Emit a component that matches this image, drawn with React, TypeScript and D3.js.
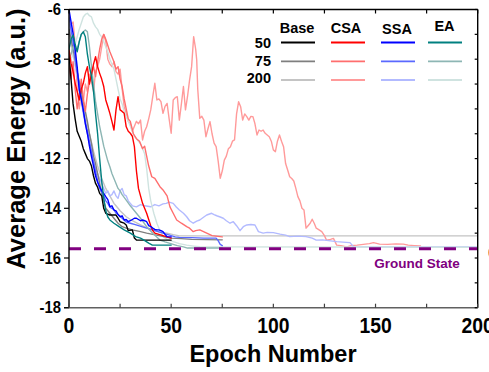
import React from 'react';
import * as d3 from 'd3';

type Pt = [number, number];

// Average energy per epoch, [epoch, energy (a.u.)]
const base50: Pt[] = [[0,-7.8],[1,-8.8],[2,-9.8],[3,-10.4],[4,-10.9],[5,-11.1],[6,-11.3],[7,-11.6],[8,-11.8],[9,-12.0],[10,-12.1],[11,-12.3],[12,-12.7],[13,-13.0],[14,-13.15],[15,-13.4],[16,-13.5],[17,-14.0],[18,-14.2],[20,-14.27],[23,-14.27],[24,-14.4],[25,-14.54],[27,-14.6],[28,-14.67],[29,-14.9],[31,-14.87],[32,-15.2],[33,-15.28],[50,-15.28]];
const base75: Pt[] = [[0,-6.8],[1,-7.2],[2,-7.6],[3,-8.0],[4,-8.5],[5,-8.9],[6,-9.3],[7,-9.7],[8,-10.1],[9,-10.5],[10,-11.0],[11,-11.4],[12,-11.9],[13,-12.2],[14,-12.6],[15,-13.0],[16,-13.4],[17,-13.7],[18,-14.0],[19,-14.1],[20,-14.2],[21,-14.3],[22,-14.4],[23,-14.5],[24,-14.6],[26,-14.74],[28,-14.8],[31,-14.87],[35,-14.94],[38,-15.0],[41,-15.05],[44,-15.1],[47,-15.15],[50,-15.2],[55,-15.22],[60,-15.25],[75,-15.27]];
const base200: Pt[] = [[0,-7.0],[1,-7.4],[2,-7.8],[3,-8.2],[4,-8.6],[5,-9.0],[6,-9.4],[7,-9.8],[8,-10.2],[9,-10.6],[10,-11.0],[11,-11.35],[12,-11.7],[13,-12.0],[14,-12.3],[15,-12.55],[16,-12.8],[17,-13.0],[18,-13.2],[19,-13.35],[20,-13.5],[21,-13.65],[22,-13.8],[23,-13.9],[25,-14.1],[28,-14.34],[31,-14.5],[35,-14.67],[38,-14.78],[41,-14.87],[44,-14.95],[48,-15.0],[51,-15.06],[54,-15.11],[200,-15.11]];

const csa50: Pt[] = [[0,-7.6],[1,-8.17],[2,-8.5],[3,-8.96],[4,-9.3],[5,-9.64],[6,-9.2],[7,-8.97],[8,-8.56],[9,-8.3],[10,-9.0],[11,-8.6],[12,-8.2],[13,-7.9],[14,-8.3],[15,-8.57],[16,-8.8],[17,-9.1],[18,-9.64],[19,-9.9],[20,-10.18],[21,-10.5],[22,-10.85],[23,-10.04],[24,-9.51],[25,-10.04],[26,-10.1],[27,-10.18],[28,-10.72],[29,-10.9],[30,-10.98],[31,-11.1],[32,-11.52],[33,-12.5],[34,-13.2],[35,-13.5],[36,-13.8],[37,-14.0],[38,-14.2],[39,-14.45],[40,-14.7],[41,-14.9],[42,-15.0],[44,-15.05],[46,-15.1],[48,-15.15],[50,-15.2]];
const csa75: Pt[] = [[0,-8.3],[1,-8.8],[2,-8.1],[3,-9.2],[4,-10.0],[5,-9.5],[6,-8.8],[7,-9.6],[8,-10.1],[9,-9.4],[10,-8.9],[12,-8.3],[13,-8.7],[14,-8.1],[15,-7.6],[16,-7.2],[17,-7.0],[18,-7.2],[20,-7.7],[22,-8.1],[23,-8.4],[24,-8.3],[25,-8.8],[26,-9.1],[27,-9.6],[28,-10.0],[29,-10.4],[30,-10.5],[31.5,-11.0],[33,-11.2],[34.5,-11.3],[36,-11.6],[37,-11.5],[38,-11.9],[39,-12.3],[40.5,-12.73],[42,-12.8],[44.5,-13.13],[46,-13.26],[48,-13.5],[49.4,-13.94],[51,-14.2],[52.7,-14.47],[55,-14.6],[57.6,-14.74],[59,-14.8],[60.8,-14.94],[62,-14.9],[64,-14.87],[67.4,-15.0],[70,-15.1],[73.9,-15.14],[75,-15.15]];
const csa200: Pt[] = [[0,-7.0],[1,-6.6],[2,-6.5],[3,-7.4],[4,-9.2],[5,-10.0],[6,-9.4],[7,-9.7],[8,-9.0],[9,-9.3],[10,-8.6],[11,-8.9],[12,-9.3],[13,-8.5],[14,-8.3],[15,-8.0],[16,-7.5],[17,-7.0],[18,-7.3],[19,-8.0],[20,-8.2],[21,-8.3],[22,-8.1],[23,-8.5],[24,-8.6],[25,-8.4],[26,-9.2],[27,-9.9],[28,-10.2],[29,-10.5],[30,-10.6],[31,-10.9],[32,-10.7],[33,-10.5],[34,-10.6],[35,-10.45],[36,-11.25],[37,-10.9],[38,-10.72],[39,-10.4],[40,-10.04],[41,-9.5],[42,-8.97],[43,-9.64],[44,-9.6],[45,-9.71],[46,-10.18],[47,-9.9],[48,-9.78],[49,-10.4],[50,-10.98],[51,-9.64],[52,-9.55],[53,-9.51],[54,-10.45],[55,-9.8],[56,-9.1],[57,-10.04],[58,-9.5],[59,-8.84],[60,-8.3],[61,-7.09],[62,-7.6],[62.5,-8.03],[63,-9.2],[64,-10.38],[65,-10.3],[66,-10.45],[67,-11.12],[68,-10.8],[69,-10.51],[70,-11.0],[71,-11.38],[72,-11.52],[73,-12.1],[74,-12.79],[75,-12.5],[76,-12.06],[77,-11.9],[78,-11.6],[79,-11.52],[80,-11.3],[81,-11.25],[82,-10.2],[83,-9.71],[84,-9.91],[85,-10.45],[86,-10.2],[87,-10.31],[88,-10.45],[89,-10.3],[90,-10.31],[91,-10.6],[92,-11.05],[93,-10.85],[94,-10.9],[95,-10.85],[96,-10.98],[97,-11.05],[98,-11.12],[99,-11.3],[100,-11.65],[101,-11.72],[102,-11.3],[103,-11.05],[104,-11.3],[105,-11.52],[106,-12.2],[107,-12.46],[108,-12.73],[109,-12.8],[110,-12.9],[111,-13.2],[112,-13.53],[113,-13.7],[114,-14.0],[115,-14.07],[116,-14.8],[117,-14.7],[118,-14.6],[119,-14.44],[120,-14.6],[121,-14.8],[122,-14.85],[123.7,-14.94],[125,-15.1],[126,-15.28],[128,-15.25],[129.4,-15.21],[131,-15.48],[133,-15.5],[136,-15.55],[138,-15.5],[141,-15.48],[144,-15.45],[147,-15.42],[149,-15.38],[152,-15.44],[156,-15.45],[160,-15.43],[163.6,-15.44],[166,-15.48],[169,-15.5],[172,-15.52]];

const ssa50: Pt[] = [[0,-6.0],[1,-6.5],[2,-6.96],[3,-7.6],[4,-8.3],[5,-9.24],[6,-9.6],[7,-10.04],[8,-10.6],[9,-11.0],[10,-11.5],[11,-11.92],[12,-12.3],[13,-12.7],[14,-12.95],[15,-13.13],[16,-13.3],[17,-13.4],[18,-13.53],[19,-13.65],[20,-13.93],[21,-13.9],[22,-14.07],[23,-14.1],[24,-14.25],[25,-14.34],[26,-14.3],[27,-14.47],[28,-14.45],[29,-14.54],[30,-14.5],[31,-14.45],[32,-14.4],[33,-14.4],[34,-14.45],[35,-14.5],[36,-14.47],[37,-14.5],[38,-14.54],[39,-14.7],[40,-14.74],[41,-14.8],[42,-14.85],[43,-14.87],[44,-14.87],[45,-14.9],[46,-14.94],[47,-15.05],[48,-15.14],[50,-15.15]];
const ssa75: Pt[] = [[0,-6.3],[1,-6.8],[2,-7.3],[3,-7.9],[4,-8.5],[5,-9.0],[6,-9.6],[7,-10.1],[8,-10.5],[9,-10.9],[10,-11.3],[11,-11.7],[12,-12.1],[13,-12.5],[14,-12.9],[15,-13.2],[16,-13.35],[17,-13.5],[18,-13.7],[19,-13.8],[20,-13.95],[21,-14.0],[22,-14.05],[23,-14.2],[24,-14.25],[26,-14.4],[28,-14.55],[30,-14.6],[32,-14.65],[34,-14.7],[36,-14.75],[38,-14.8],[40,-14.85],[42,-14.9],[44,-14.95],[46,-15.0],[48,-15.05],[50,-15.1],[52,-15.15],[54,-15.17],[60,-15.18],[66,-15.2],[72,-15.2],[73,-15.3],[74,-15.45],[75,-15.5]];
const ssa200: Pt[] = [[0,-6.6],[1,-7.1],[2,-7.6],[3,-8.2],[4,-8.7],[5,-9.2],[6,-9.7],[7,-10.2],[8,-10.6],[9,-11.0],[10,-11.4],[11,-11.8],[12,-12.1],[13,-12.4],[14,-12.6],[15,-12.8],[16,-13.0],[17,-13.2],[18,-13.4],[19,-13.3],[20,-13.5],[21,-13.45],[22,-13.3],[23,-13.5],[24,-13.6],[25,-13.3],[26,-13.2],[27,-13.45],[28,-13.5],[29,-13.7],[30,-13.8],[31,-13.9],[33,-13.94],[35,-13.85],[37,-13.9],[40,-13.94],[42,-13.85],[44,-13.9],[46,-13.82],[47.6,-13.8],[49,-13.75],[51,-13.8],[52.5,-13.95],[54,-14.07],[56,-14.2],[57.6,-14.34],[59,-14.5],[60.8,-14.6],[62.5,-14.52],[64,-14.47],[66,-14.35],[67.4,-14.27],[69.8,-14.2],[71,-14.25],[72.3,-14.3],[74,-14.35],[75.5,-14.4],[77,-14.5],[78.8,-14.6],[80.4,-14.54],[82,-14.7],[83.7,-14.9],[85.3,-14.74],[87,-14.67],[89,-14.65],[91,-14.67],[92.7,-14.94],[95,-15.0],[97,-14.97],[100,-14.98],[103.3,-15.04],[106,-15.08],[108,-15.14],[112,-15.12],[116,-15.14],[119,-15.2],[121,-15.28],[124,-15.27],[127,-15.3],[131,-15.34],[134,-15.36],[137.5,-15.38],[139.2,-15.55],[200,-15.56]];

const ea50: Pt[] = [[0,-7.6],[1,-7.2],[2,-7.03],[3,-7.4],[4,-7.7],[5,-7.3],[6,-7.0],[7,-6.9],[8,-7.1],[9,-7.8],[10,-8.3],[11,-8.7],[12,-9.3],[13,-10.2],[14,-11.0],[15,-12.0],[16,-12.9],[17,-13.6],[18,-14.1],[19,-14.35],[20,-14.47],[22,-14.6],[24.5,-14.74],[27,-14.87],[30,-15.0],[32.6,-15.14],[35,-15.2],[36.7,-15.28],[39,-15.4],[40.8,-15.48],[50,-15.48]];
const ea75: Pt[] = [[0,-8.0],[1,-7.8],[2,-7.5],[3,-7.7],[4,-7.6],[5,-7.3],[6,-7.0],[7,-6.9],[8,-6.82],[9,-6.9],[10,-7.5],[11,-8.3],[12,-9.0],[13,-9.7],[14,-10.2],[15,-10.7],[16,-11.1],[17,-11.5],[18,-11.8],[19,-12.1],[20,-12.33],[21,-12.6],[22,-12.8],[23,-13.0],[24,-13.2],[25,-13.3],[26,-13.45],[28,-13.67],[30,-13.9],[33,-14.2],[35,-14.4],[38,-14.74],[41,-15.0],[44.5,-15.28],[47,-15.35],[49.4,-15.41],[53,-15.5],[56,-15.55],[58,-15.6],[75,-15.6]];
const ea200: Pt[] = [[0,-8.3],[1,-8.0],[2,-7.8],[3,-7.4],[4,-7.1],[5,-6.8],[6,-6.55],[7,-6.3],[8,-6.2],[9,-6.15],[10,-6.25],[11,-6.3],[12,-6.55],[13,-6.7],[14,-6.8],[15,-7.0],[16,-7.1],[17,-7.3],[18,-7.5],[19,-7.7],[20,-8.0],[21,-8.2],[22,-8.4],[23,-8.8],[24,-9.2],[25,-9.6],[26,-9.8],[27,-10.1],[28,-10.3],[29,-10.5],[30,-10.7],[31,-10.9],[32,-11.1],[33,-11.2],[34,-11.3],[35,-11.4],[36,-11.6],[37,-11.8],[38,-12.4],[39,-13.2],[40,-13.7],[41.5,-14.2],[43,-14.6],[44.5,-14.9],[46,-15.14],[48,-15.25],[51,-15.34],[54,-15.42],[57.6,-15.48],[61,-15.52],[64,-15.55],[200,-15.57]];

const groundState = -15.63;

const methods = ['Base', 'CSA', 'SSA', 'EA'];
const budgets = ['50', '75', '200'];
const xTicks = [0, 50, 100, 150, 200];
const xMinorTicks = [25, 75, 125, 175];
const yTicks = [-6, -8, -10, -12, -14, -16, -18];
const yMinorTicks = [-7, -9, -11, -13, -15, -17];

const seriesData: Record<string, Pt[][]> = {
  Base: [base50, base75, base200],
  CSA: [csa50, csa75, csa200],
  SSA: [ssa50, ssa75, ssa200],
  EA: [ea50, ea75, ea200],
};

const palette: Record<string, string[]> = {
  Base: ['#000000', '#7f7f7f', '#c4c4c4'],
  CSA: ['#ff0000', '#ff6e6e', '#ff9a9a'],
  SSA: ['#0000ff', '#5a69ff', '#b2baff'],
  EA: ['#008080', '#8db6b4', '#cfe3e0'],
};

const W = 489;
const H = 372;
const plot = { left: 69, right: 477.7, top: 9.5, bottom: 307.7 };

const x = d3.scaleLinear().domain([0, 200]).range([plot.left, plot.right]);
const y = d3.scaleLinear().domain([-18, -6]).range([plot.bottom, plot.top]);

const line = d3.line<Pt>().x(d => x(d[0])).y(d => y(d[1]));

const font = 'Arial, "Liberation Sans", Helvetica, sans-serif';

// legend layout
const legendCols = [
  { x0: 281, head: 297, headY: 33 },
  { x0: 331, head: 346, headY: 33 },
  { x0: 381, head: 397, headY: 34 },
  { x0: 428, head: 444.5, headY: 31 },
];
const legendRows = [
  { y: 42.5, labelY: 47.7 },
  { y: 61.3, labelY: 65.7 },
  { y: 80, labelY: 83.3 },
];

export default function App() {
  const drawOrder: { key: string; d: Pt[]; color: string }[] = [];
  [2, 1, 0].forEach(bi => {
    methods.forEach(m => {
      drawOrder.push({ key: `${m}-${budgets[bi]}`, d: seriesData[m][bi], color: palette[m][bi] });
    });
  });

  return (
    <svg width={W} height={H} style={{ position: 'absolute', left: 0, top: 0, background: '#fff' }} fontFamily={font}>
      <defs>
        <clipPath id="plotArea">
          <rect x={plot.left} y={plot.top} width={plot.right - plot.left} height={plot.bottom - plot.top} />
        </clipPath>
      </defs>
      <rect x={0} y={0} width={W} height={H} fill="#fff" />

      <g clipPath="url(#plotArea)" fill="none" strokeLinejoin="round" strokeLinecap="round">
        {drawOrder.map(s => (
          <path key={s.key} d={line(s.d) || ''} stroke={s.color} strokeWidth={1.4} />
        ))}
      </g>

      {/* ground state reference */}
      <line x1={plot.left} x2={plot.right} y1={y(groundState)} y2={y(groundState)}
        stroke="#800080" strokeWidth={3} strokeDasharray="12 13" />
      <text x={417} y={267.5} textAnchor="middle" fontSize={13.5} fontWeight="bold" fill="#800080">Ground State</text>

      {/* frame */}
      <line x1={plot.left} x2={plot.right} y1={plot.top} y2={plot.top} stroke="#000" strokeWidth={1.4} />
      <line x1={plot.right} x2={plot.right} y1={plot.top} y2={plot.bottom} stroke="#000" strokeWidth={1.4} />
      <line x1={plot.left} x2={plot.left} y1={plot.top} y2={plot.bottom} stroke="#000" strokeWidth={1.4} />
      <line x1={plot.left - 5} x2={plot.right} y1={plot.bottom} y2={plot.bottom} stroke="#606060" strokeWidth={1.6} />

      {/* left ticks (outside) */}
      {yTicks.map(v => (
        <line key={`yl${v}`} x1={plot.left - 5} x2={plot.left} y1={y(v)} y2={y(v)} stroke="#000" strokeWidth={1.2} />
      ))}
      {yMinorTicks.map(v => (
        <line key={`ym${v}`} x1={plot.left - 3} x2={plot.left} y1={y(v)} y2={y(v)} stroke="#000" strokeWidth={1.2} />
      ))}
      {/* right ticks (inside) */}
      {[...yTicks, ...yMinorTicks].map(v => (
        <line key={`yr${v}`} x1={plot.right - 3} x2={plot.right} y1={y(v)} y2={y(v)} stroke="#000" strokeWidth={1.2} />
      ))}
      {/* top and bottom ticks (inside) */}
      {[...xTicks, ...xMinorTicks].map(v => (
        <g key={`xt${v}`}>
          <line x1={x(v)} x2={x(v)} y1={plot.top} y2={plot.top + 4} stroke="#000" strokeWidth={1.2} />
          <line x1={x(v)} x2={x(v)} y1={plot.bottom} y2={plot.bottom - 4} stroke="#404040" strokeWidth={1.2} />
        </g>
      ))}

      {/* tick labels */}
      {yTicks.map(v => (
        <text key={`ytl${v}`} transform={`translate(61,${y(v) + 5.6}) scale(0.9,1.05)`} textAnchor="end"
          fontSize={16.5} fontWeight="bold" fill="#000">{v}</text>
      ))}
      {xTicks.map(v => (
        <text key={`xtl${v}`} transform={`translate(${x(v)},333) scale(0.9,1.05)`} textAnchor="middle"
          fontSize={21.5} fontWeight="bold" fill="#000">{v}</text>
      ))}

      {/* axis titles */}
      <text transform="translate(25,139) rotate(-90)" textAnchor="middle" fontSize={25.5} fontWeight="bold" fill="#000">
        Average Energy (a.u.)
      </text>
      <text x={273} y={362} textAnchor="middle" fontSize={23.5} fontWeight="bold" fill="#000">Epoch Number</text>

      {/* legend */}
      {methods.map((m, i) => (
        <text key={`lh${m}`} x={legendCols[i].head} y={legendCols[i].headY} textAnchor="middle"
          fontSize={14.5} fontWeight="bold" fill="#000">{m}</text>
      ))}
      {budgets.map((b, j) => (
        <text key={`lr${b}`} x={271} y={legendRows[j].labelY} textAnchor="end"
          fontSize={14.5} fontWeight="bold" fill="#000">{b}</text>
      ))}
      {methods.map((m, i) =>
        budgets.map((b, j) => (
          <line key={`ll${m}${b}`} x1={legendCols[i].x0} x2={legendCols[i].x0 + 34}
            y1={legendRows[j].y} y2={legendRows[j].y} stroke={palette[m][j]} strokeWidth={1.8} />
        ))
      )}

      {/* neighbouring marker at the right edge */}
      <circle cx={495} cy={252.5} r={7} fill="#f3a14a" />
    </svg>
  );
}
